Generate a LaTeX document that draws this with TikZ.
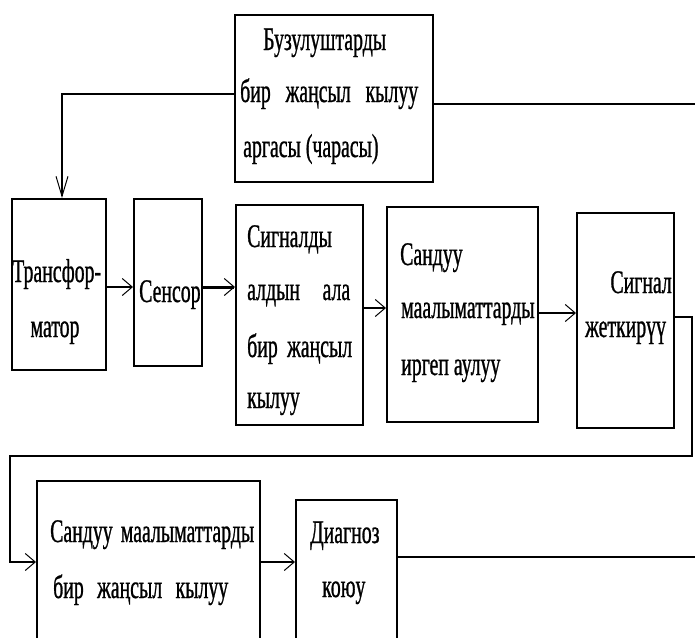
\documentclass[tikz,border=0pt]{standalone}
\usepackage{fontspec}
\setmainfont{Liberation Serif}[FakeStretch=0.6,FakeBold=0.8]
\usetikzlibrary{arrows.meta}
\begin{document}
\begin{tikzpicture}[x=1pt,y=-1pt,
  box/.style={draw, line width=2pt, inner sep=0pt},
  txt/.style={inner sep=0pt, font=\fontsize{33}{40}\selectfont},
  conn/.style={line width=2pt},
  arr/.style={line width=2pt, -{Straight Barb[length=10pt,width=17pt,line width=1pt]}},
  arrv/.style={line width=2pt, -{Straight Barb[length=20pt,width=12pt,line width=1pt]}},
]
\useasboundingbox (0,0) rectangle (695,637);
\fill[white] (0,0) rectangle (695,637);
\clip (0,0) rectangle (695,637);

% boxes
\node[box, minimum width=198pt, minimum height=167pt] (tb) at (334,98.5) {};
\node[box, minimum width=94pt, minimum height=171pt] (tr) at (59,284.5) {};
\node[box, minimum width=68pt, minimum height=167pt] (se) at (168,282.5) {};
\node[box, minimum width=127pt, minimum height=220pt] (sp) at (299.5,315) {};
\node[box, minimum width=151pt, minimum height=215pt] (dg) at (462.5,314.5) {};
\node[box, minimum width=97pt, minimum height=215pt] (st) at (625.5,320.5) {};
\node[box, minimum width=223pt, minimum height=199pt] (bo) at (148.5,580.5) {};
\node[box, minimum width=101pt, minimum height=180pt] (bt) at (346.5,590) {};

% texts
\node[txt, anchor=base west] (tb1) at (263,50) {Бузулуштарды};
\node[txt, anchor=base west] (tb2) at (240,102) {\hbox to 178pt{бир\hfil жаңсыл\hfil кылуу}};
\node[txt, anchor=base west] (tb3) at (243,157) {аргасы (чарасы)};

\node[txt, anchor=base west] (tr1) at (12,282) {Трансфор-};
\node[txt, anchor=base] (tr2) at (55,337) {матор};

\node[txt, anchor=base west] (se1) at (139,302) {Сенсор};

\node[txt, anchor=base west] (sp1) at (247,247) {Сигналды};
\node[txt, anchor=base west] (sp2) at (247,300) {\hbox to 103pt{алдын\hfil ала}};
\node[txt, anchor=base west] (sp3) at (247,357) {\hbox to 105pt{бир\hfil жаңсыл}};
\node[txt, anchor=base west] (sp4) at (247,408) {кылуу};

\node[txt, anchor=base west] (dg1) at (400,265) {Сандуу};
\node[txt, anchor=base west] (dg2) at (401,318) {маалыматтарды};
\node[txt, anchor=base west] (dg3) at (401,375) {иргеп аулуу};

\node[txt, anchor=base east] (st1) at (672,293) {Сигнал};
\node[txt, anchor=base west] (st2) at (585,337) {жеткирүү};

\node[txt, anchor=base west] (bo1) at (50,542) {\hbox to 204pt{Сандуу\hfil маалыматтарды}};
\node[txt, anchor=base west] (bo2) at (53,598) {\hbox to 175pt{бир\hfil жаңсыл\hfil кылуу}};

\node[txt, anchor=base west] (bt1) at (310,543) {Диагноз};
\node[txt, anchor=base west] (bt2) at (322,597) {коюу};

% level coordinates
\coordinate (k1) at (62,94);
\coordinate (ya) at (0,287);
\coordinate (yb) at (0,308);
\coordinate (yc) at (0,313);
\coordinate (p1) at (692,317);
\coordinate (p2) at (692,456);
\coordinate (p3) at (10,456);
\coordinate (p4) at (10,562);
\coordinate (q1) at (695,104);
\coordinate (q2) at (695,557);

% connectors
\draw[arrv] (tb.west |- k1) -- (k1) -- (k1 |- tr.north);
\draw[arr] (tr.east |- ya) -- (se.west |- ya);
\draw[arr, line width=3pt] (se.east |- ya) -- (sp.west |- ya);
\draw[arr] (sp.east |- yb) -- (dg.west |- yb);
\draw[arr] (dg.east |- yc) -- (st.west |- yc);
\draw[arr] (st.east |- p1) -- (p1) -- (p2) -- (p3) -- (p4) -- (bo.west |- p4);
\draw[arr] (bo.east |- p4) -- (bt.west |- p4);
\draw[conn] (tb.east |- q1) -- (q1);
\draw[conn] (bt.east |- q2) -- (q2);
\end{tikzpicture}
\end{document}
